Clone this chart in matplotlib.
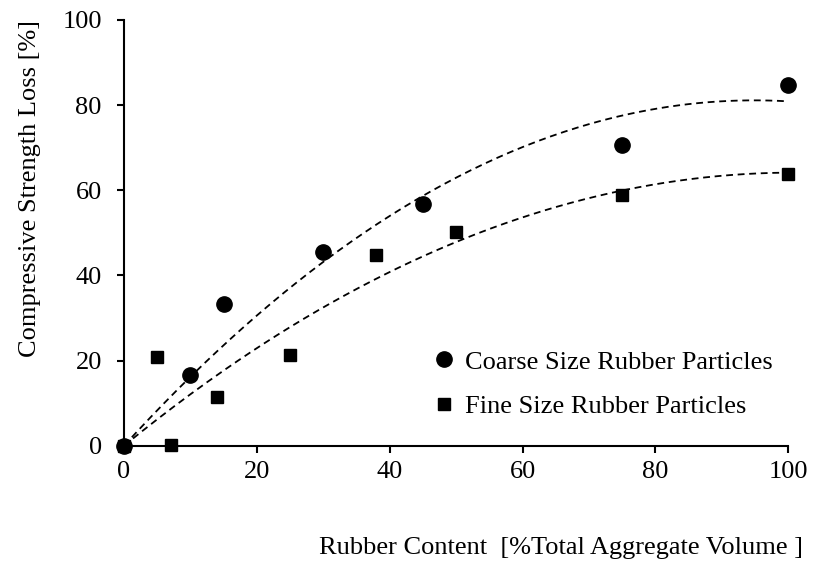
import numpy as np
import matplotlib.pyplot as plt

plt.rcParams['font.family'] = ['Liberation Serif', 'DejaVu Serif']

# rubber content [% of total aggregate volume] and strength loss [%]
coarse_x = [0, 10, 15, 30, 45, 75, 100]
coarse_y = [0, 16.7, 33.2, 45.5, 56.8, 70.7, 84.7]
fine_x = [0, 5, 7, 14, 25, 38, 50, 75, 100]
fine_y = [0, 20.9, 0.2, 11.4, 21.3, 44.9, 50.2, 58.8, 63.9]

x_ticks = [0, 20, 40, 60, 80, 100]
y_ticks = [0, 20, 40, 60, 80, 100]


def fit_origin(x, y):
    # 2nd order polynomial trend forced through zero
    x = np.asarray(x, float)
    y = np.asarray(y, float)
    A = np.column_stack([x, x ** 2])
    coef, *_ = np.linalg.lstsq(A, y, rcond=None)
    return coef


fig = plt.figure(figsize=(8.16, 5.63), dpi=100)
ax = fig.add_axes([0.152, 0.2083, 0.814, 0.7562])

xx = np.linspace(0, 100, 200)
for xs, ys in [(coarse_x, coarse_y), (fine_x, fine_y)]:
    a, b = fit_origin(xs, ys)
    ax.plot(xx, a * xx + b * xx ** 2, color='black', lw=1.3,
            linestyle=(0, (3.8, 2.6)), zorder=2)

ax.plot(coarse_x, coarse_y, 'o', color='black', markersize=11,
        label='Coarse Size Rubber Particles', clip_on=False, zorder=3)
ax.plot(fine_x, fine_y, 's', color='black', markersize=9,
        label='Fine Size Rubber Particles', clip_on=False, zorder=3)

ax.set_xlim(0, 100)
ax.set_ylim(0, 100)
ax.set_xticks(x_ticks)
ax.set_yticks(y_ticks)

for s in ['top', 'right']:
    ax.spines[s].set_visible(False)
for s in ['left', 'bottom']:
    ax.spines[s].set_linewidth(1.5)
ax.tick_params(axis='both', direction='out', length=5, width=1.5,
               labelsize=19)
ax.tick_params(axis='y', pad=11)
ax.tick_params(axis='x', pad=6)

ax.set_ylabel('Compressive Strength Loss [%]', fontsize=19)
ax.yaxis.set_label_coords(-0.125, 0.605)
fig.text(0.984, 0.027, 'Rubber Content  [%Total Aggregate Volume ]',
         fontsize=19, ha='right', va='center')

ax.legend(loc='lower right', bbox_to_anchor=(0.992, 0.04), frameon=False,
          fontsize=19, handlelength=1.0, handletextpad=0.3,
          labelspacing=0.8, borderaxespad=0)

fig.savefig('out.png', dpi=100)
